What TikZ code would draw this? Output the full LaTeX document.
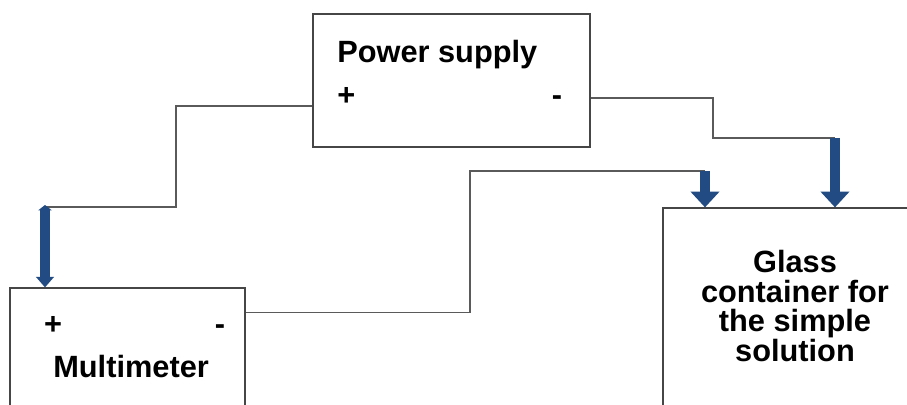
\documentclass[tikz,border=0pt]{standalone}
\usepackage{fontspec}
\setmainfont{Liberation Sans}
\usetikzlibrary{arrows.meta}
\definecolor{wiregray}{RGB}{90,90,90}
\definecolor{boxgray}{RGB}{70,70,70}
\definecolor{feedblue}{RGB}{33,75,130}
\tikzstyle{box} = [rectangle, draw=boxgray, line width=0.7pt, fill=white, inner sep=0pt]
\tikzstyle{title} = [inner sep=0pt, font=\fontsize{17.5}{17}\selectfont\bfseries]
\tikzstyle{wire} = [draw=wiregray, line width=0.8pt]
\tikzstyle{feed} = [draw=feedblue, line width=5.5pt, -{Triangle[width=16pt,length=9pt]}]
\tikzstyle{thinfeed} = [draw=feedblue, line width=5.5pt, {Triangle[width=7.5pt,length=3pt]}-{Triangle[width=10pt,length=6pt]}]

\begin{document}
\begin{tikzpicture}[x=0.02cm, y=-0.02cm]
\useasboundingbox (0,0) rectangle (907,405);

\node (power) [box, minimum width=5.54cm, minimum height=2.66cm] at (451.5,80.5) {};
\node (meter) [box, minimum width=4.7cm, minimum height=2.84cm] at (127.5,359) {};
\node (glass) [box, minimum width=5.28cm, minimum height=4.44cm] at (795,319) {};

\node (powername) [title, anchor=base west] at (337,63) {Power supply};
\node (pplus) [title, anchor=base west] at (337,106) {+};
\node (pminus) [title, anchor=base] at (557,106) {-};
\node (mplus) [title, anchor=base] at (53,335) {+};
\node (mminus) [title, anchor=base] at (220,335) {-};
\node (metername) [title, anchor=base west] at (53,378) {Multimeter};
\node (glassname) [title, align=center] at (795,306) {Glass\\container for\\the simple\\solution};

\coordinate (mtip) at (45,205);
\coordinate (gtip) at (835,138);
\coordinate (ctip) at (705,171);

\draw [wire] ([yshift=-0.51cm]power.west) -| (176,207) -- (45,207);
\draw [thinfeed] (mtip) -- (mtip |- meter.north);
\draw [wire] ([yshift=-0.35cm]power.east) -| (713,138) -- (gtip);
\draw [feed] (gtip) -- (gtip |- glass.north);
\draw [wire] ([yshift=-0.5cm]meter.north east) -| (470,171) -- (ctip);
\draw [feed] (ctip) -- (ctip |- glass.north);

\end{tikzpicture}
\end{document}
